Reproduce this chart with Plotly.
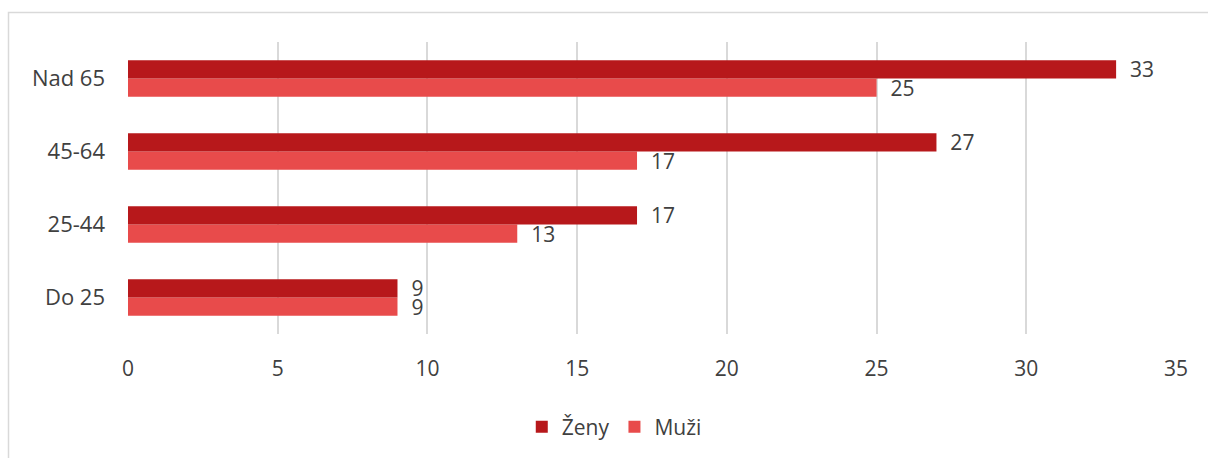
import plotly.graph_objects as go

# Age groups (bottom to top) and counts per gender
age_groups = ["Do 25", "25-44", "45-64", "Nad 65"]
zeny = [9, 17, 27, 33]
muzi = [9, 13, 17, 25]

colors = {"Ženy": "#B7181B", "Muži": "#E84B4B"}

FONT = "Open Sans, Noto Sans, sans-serif"
TXT = "#404040"
GRID = "#D9D9D9"

fig = go.Figure()

# In horizontal grouped bars the first trace sits lowest, so Muži goes first
for name, vals in (("Muži", muzi), ("Ženy", zeny)):
    fig.add_trace(go.Bar(
        name=name,
        y=age_groups,
        x=vals,
        orientation="h",
        marker=dict(color=colors[name], line=dict(width=0)),
        text=vals,
        texttemplate="  %{x}",
        textposition="outside",
        constraintext="none",
        cliponaxis=False,
        outsidetextfont=dict(family=FONT, size=21, color=TXT),
        legendrank=2 if name == "Muži" else 1,
    ))

fig.update_layout(
    width=1208,
    height=458,
    margin=dict(l=128, r=32, t=42, b=123),
    paper_bgcolor="white",
    plot_bgcolor="white",
    barmode="group",
    bargap=0.5,
    bargroupgap=0,
    font=dict(family=FONT, size=21, color=TXT),
    showlegend=True,
    legend=dict(
        orientation="h",
        x=0.464, xanchor="center",
        y=-0.314, yanchor="middle",
        font=dict(family=FONT, size=21, color=TXT),
        itemwidth=30,
        traceorder="normal",
    ),
    xaxis=dict(
        range=[0, 35],
        dtick=5,
        tick0=0,
        showgrid=True,
        gridcolor=GRID,
        gridwidth=2,
        zeroline=False,
        showline=False,
        ticks="",
        ticklabelstandoff=20,
        tickfont=dict(family=FONT, size=21, color=TXT),
    ),
    yaxis=dict(
        range=[-0.5, 3.5],
        showgrid=False,
        zeroline=False,
        showline=False,
        ticks="",
        ticklabelstandoff=22,
        tickfont=dict(family=FONT, size=22, color=TXT),
    ),
    shapes=[
        # outer chart frame
        dict(
            type="rect",
            xref="paper", yref="paper",
            x0=(8.5 - 128) / 1048, x1=1.2,
            y0=-0.6, y1=(335 - 12.5) / 293,
            line=dict(color=GRID, width=1.5),
            fillcolor="rgba(0,0,0,0)",
            layer="below",
        )
    ],
)

fig.write_html("out.html")
